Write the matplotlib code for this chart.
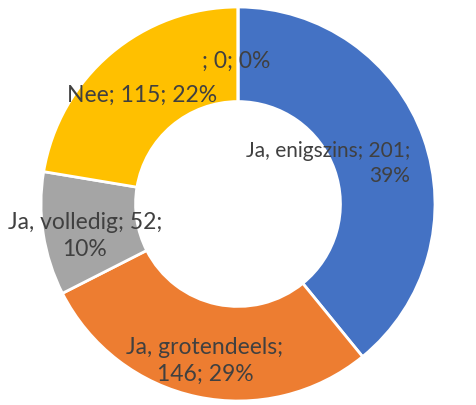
import matplotlib
matplotlib.use("Agg")
import matplotlib.pyplot as plt

categories = ["Ja, enigszins", "Ja, grotendeels", "Ja, volledig", "Nee", ""]
values = [201, 146, 52, 115, 0]
percents = [39, 29, 10, 22, 0]
colors = ["#4472C4", "#ED7D31", "#A5A5A5", "#FFC000", "#5B9BD5"]

# label text (line breaks as in the picture) and placement
label_texts = [
    f"{categories[0]}; {values[0]};\n{percents[0]}%",
    f"{categories[1]};\n{values[1]}; {percents[1]}%",
    f"{categories[2]}; {values[2]};\n{percents[2]}%",
    f"{categories[3]}; {values[3]}; {percents[3]}%",
    f"{categories[4]}; {values[4]}; {percents[4]}%",
]
label_pos = [(0.875, 0.21), (-0.168, -0.79), (-0.777, -0.157), (-0.487, 0.558), (-0.01, 0.728)]
label_ha = ["right", "center", "center", "center", "center"]
label_size = [15, 16.5, 16.5, 16.5, 16.5]

fig = plt.figure(figsize=(4.77, 4.06), dpi=100)
ax = fig.add_axes([0, 0, 1, 1])
ax.pie(values, colors=colors, startangle=90, counterclock=False,
       wedgeprops=dict(width=0.48, edgecolor="white", linewidth=2))
ax.set_xlim(-238 / 197, (477 - 238) / 197)
ax.set_ylim(-201 / 197, 205 / 197)
ax.set_aspect("equal", adjustable="box")
ax.axis("off")

for txt, (x, y), ha, fs in zip(label_texts, label_pos, label_ha, label_size):
    ax.text(x, y, txt, ha=ha, va="center", multialignment=ha,
            fontsize=fs, color="#404040", family=["Lato", "DejaVu Sans"], linespacing=1.35)

fig.savefig("out.png", dpi=100)
